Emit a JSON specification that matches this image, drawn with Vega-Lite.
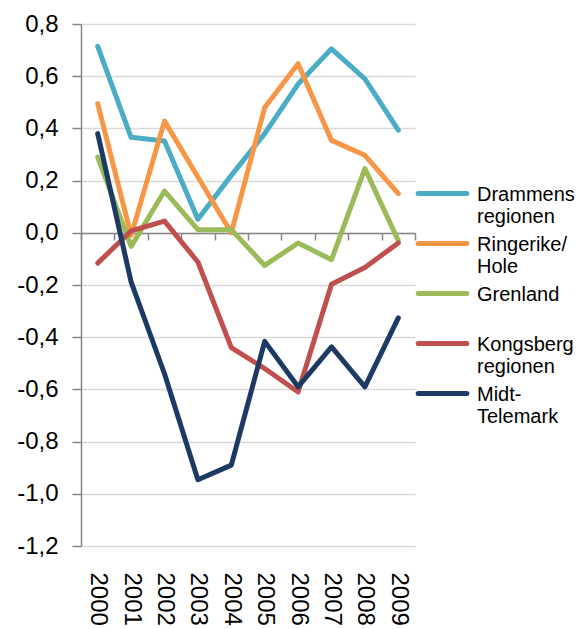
{
  "$schema": "https://vega.github.io/schema/vega-lite/v6.json",
  "width": 334,
  "height": 522,
  "autosize": {"type": "none"},
  "padding": {"left": 81, "top": 24, "right": 161, "bottom": 83},
  "background": "white",
  "config": {"view": {"stroke": null}, "font": "Liberation Sans"},
  "data": {
    "values": [
      {"year": "2000", "region": "Drammensregionen", "value": 0.714},
      {"year": "2001", "region": "Drammensregionen", "value": 0.366},
      {"year": "2002", "region": "Drammensregionen", "value": 0.352},
      {"year": "2003", "region": "Drammensregionen", "value": 0.052},
      {"year": "2004", "region": "Drammensregionen", "value": 0.22},
      {"year": "2005", "region": "Drammensregionen", "value": 0.38},
      {"year": "2006", "region": "Drammensregionen", "value": 0.57},
      {"year": "2007", "region": "Drammensregionen", "value": 0.705},
      {"year": "2008", "region": "Drammensregionen", "value": 0.59},
      {"year": "2009", "region": "Drammensregionen", "value": 0.393},
      {"year": "2000", "region": "Ringerike/Hole", "value": 0.495},
      {"year": "2001", "region": "Ringerike/Hole", "value": -0.01},
      {"year": "2002", "region": "Ringerike/Hole", "value": 0.428},
      {"year": "2003", "region": "Ringerike/Hole", "value": 0.214},
      {"year": "2004", "region": "Ringerike/Hole", "value": 0.0},
      {"year": "2005", "region": "Ringerike/Hole", "value": 0.48},
      {"year": "2006", "region": "Ringerike/Hole", "value": 0.648},
      {"year": "2007", "region": "Ringerike/Hole", "value": 0.354},
      {"year": "2008", "region": "Ringerike/Hole", "value": 0.297},
      {"year": "2009", "region": "Ringerike/Hole", "value": 0.15},
      {"year": "2000", "region": "Grenland", "value": 0.29},
      {"year": "2001", "region": "Grenland", "value": -0.052},
      {"year": "2002", "region": "Grenland", "value": 0.16},
      {"year": "2003", "region": "Grenland", "value": 0.012},
      {"year": "2004", "region": "Grenland", "value": 0.012},
      {"year": "2005", "region": "Grenland", "value": -0.125},
      {"year": "2006", "region": "Grenland", "value": -0.039},
      {"year": "2007", "region": "Grenland", "value": -0.103},
      {"year": "2008", "region": "Grenland", "value": 0.246},
      {"year": "2009", "region": "Grenland", "value": -0.03},
      {"year": "2000", "region": "Kongsbergregionen", "value": -0.116},
      {"year": "2001", "region": "Kongsbergregionen", "value": 0.007},
      {"year": "2002", "region": "Kongsbergregionen", "value": 0.045},
      {"year": "2003", "region": "Kongsbergregionen", "value": -0.112},
      {"year": "2004", "region": "Kongsbergregionen", "value": -0.44},
      {"year": "2005", "region": "Kongsbergregionen", "value": -0.52},
      {"year": "2006", "region": "Kongsbergregionen", "value": -0.61},
      {"year": "2007", "region": "Kongsbergregionen", "value": -0.197},
      {"year": "2008", "region": "Kongsbergregionen", "value": -0.133},
      {"year": "2009", "region": "Kongsbergregionen", "value": -0.039},
      {"year": "2000", "region": "Midt-Telemark", "value": 0.38},
      {"year": "2001", "region": "Midt-Telemark", "value": -0.188},
      {"year": "2002", "region": "Midt-Telemark", "value": -0.54},
      {"year": "2003", "region": "Midt-Telemark", "value": -0.946},
      {"year": "2004", "region": "Midt-Telemark", "value": -0.89},
      {"year": "2005", "region": "Midt-Telemark", "value": -0.416},
      {"year": "2006", "region": "Midt-Telemark", "value": -0.59},
      {"year": "2007", "region": "Midt-Telemark", "value": -0.437},
      {"year": "2008", "region": "Midt-Telemark", "value": -0.59},
      {"year": "2009", "region": "Midt-Telemark", "value": -0.326}
    ]
  },
  "mark": {"type": "line", "strokeWidth": 5, "strokeCap": "round", "strokeJoin": "round"},
  "encoding": {
    "x": {
      "field": "year",
      "type": "ordinal",
      "bandPosition": 0.5,
      "scale": {"type": "band", "paddingInner": 0, "paddingOuter": 0},
      "axis": {
        "title": null,
        "offset": -313,
        "domainColor": "#868686",
        "domainWidth": 1.5,
        "tickColor": "#868686",
        "tickWidth": 1.5,
        "tickSize": 7,
        "tickBand": "extent",
        "grid": false,
        "labelAngle": 90,
        "labelAlign": "left",
        "labelBaseline": "middle",
        "labelPadding": 332,
        "labelFontSize": 24,
        "labelColor": "#000000",
        "labelFont": "Liberation Sans"
      }
    },
    "y": {
      "field": "value",
      "type": "quantitative",
      "scale": {"domain": [-1.2, 0.8], "nice": false, "zero": false},
      "axis": {
        "title": null,
        "values": [-1.2, -1.0, -0.8, -0.6, -0.4, -0.2, 0, 0.2, 0.4, 0.6, 0.8],
        "labelExpr": "replace(replace(format(datum.value, '.1f'), '.', ','), '\u2212', '-')",
        "domainColor": "#868686",
        "domainWidth": 1.5,
        "tickColor": "#868686",
        "tickWidth": 1.5,
        "tickSize": 9,
        "gridColor": "#d9d9d9",
        "gridWidth": 1.5,
        "labelFontSize": 24,
        "labelPadding": 14,
        "labelColor": "#000000",
        "labelFont": "Liberation Sans"
      }
    },
    "color": {
      "field": "region",
      "type": "nominal",
      "sort": null,
      "scale": {
        "domain": ["Drammensregionen", "Ringerike/Hole", "Grenland", "Kongsbergregionen", "Midt-Telemark"],
        "range": ["#4bacc6", "#f79646", "#9bbb59", "#c0504d", "#1c3a63"]
      },
      "legend": {
        "title": null,
        "orient": "none",
        "legendX": 350,
        "legendY": 158,
        "padding": 0,
        "gridAlign": "all",
        "symbolType": "M-2.75,0L2.75,0",
        "symbolStrokeWidth": 5,
        "symbolSize": 313,
        "symbolFillColor": "transparent",
        "labelFontSize": 20,
        "labelFont": "Liberation Sans",
        "labelColor": "#000000",
        "labelOffset": 23,
        "labelLimit": 200,
        "labelLineHeight": 23.5,
        "labelBaseline": "alphabetic",
        "rowPadding": 5,
        "labelExpr": "datum.label == 'Drammensregionen' ? ['Drammens', 'regionen'] : datum.label == 'Ringerike/Hole' ? ['Ringerike/', 'Hole'] : datum.label == 'Kongsbergregionen' ? ['Kongsberg', 'regionen'] : datum.label == 'Midt-Telemark' ? ['Midt-', 'Telemark'] : datum.label",
        "encode": {
          "labels": {"update": {"dy": {"value": 7}}},
          "symbols": {"update": {"strokeCap": {"value": "round"}}}
        }
      }
    }
  }
}
